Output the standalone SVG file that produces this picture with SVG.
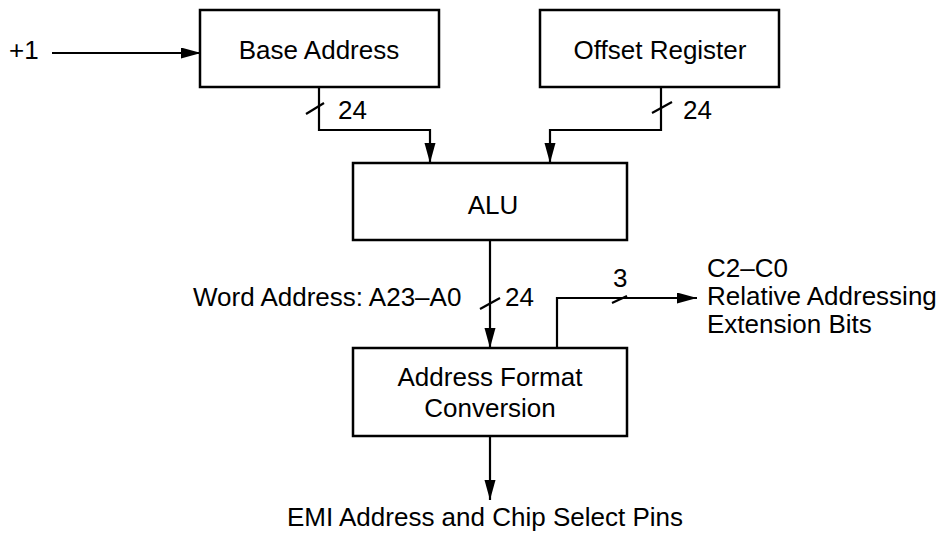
<svg xmlns="http://www.w3.org/2000/svg" width="945" height="533" viewBox="0 0 945 533">
<style>
.box{fill:#fff;stroke:#000;stroke-width:2.5}
.ln{fill:none;stroke:#000;stroke-width:2.2}
.t{font-family:"Liberation Sans",Arial,sans-serif;font-size:26px;fill:#000}
.c{text-anchor:middle}
</style>
<defs>
<marker id="ah" markerUnits="userSpaceOnUse" markerWidth="22" markerHeight="12" refX="20" refY="5.5" orient="auto">
<path d="M0,0 L20,5.5 L0,11 Z" fill="#000"/>
</marker>
</defs>
<rect width="945" height="533" fill="#fff"/>
<g id="connectors">
<path class="ln" d="M52,53 H201" marker-end="url(#ah)"/>
<path class="ln" d="M319,87 V130 H430 V163" marker-end="url(#ah)"/>
<path class="ln" d="M661,87 V130 H550 V163" marker-end="url(#ah)"/>
<path class="ln" d="M490,240 V348" marker-end="url(#ah)"/>
<path class="ln" d="M557,348 V298 H697" marker-end="url(#ah)"/>
<path class="ln" d="M490,436 V500" marker-end="url(#ah)"/>
<path class="ln" d="M306,114 L324,103"/>
<path class="ln" d="M652,113 L672,102"/>
<path class="ln" d="M480,309 L500,298"/>
<path class="ln" d="M612,303 L627,296"/>
<text class="t" x="9" y="59">+1</text>
<text class="t" x="338" y="119">24</text>
<text class="t" x="683" y="119">24</text>
<text class="t" x="193" y="306">Word Address: A23–A0</text>
<text class="t" x="505" y="306">24</text>
<text class="t" x="613" y="287">3</text>
<text class="t" x="707" y="277">C2–C0</text>
<text class="t" x="707" y="305">Relative Addressing</text>
<text class="t" x="707" y="333">Extension Bits</text>
<text class="t" x="287" y="526">EMI Address and Chip Select Pins</text>
</g>
<g id="base-address">
<rect class="box" x="200" y="10" width="239" height="77"/>
<text class="t c" x="319" y="59">Base Address</text>
</g>
<g id="offset-register">
<rect class="box" x="540" y="10" width="239" height="77"/>
<text class="t c" x="660" y="59">Offset Register</text>
</g>
<g id="alu">
<rect class="box" x="353" y="163" width="274" height="77"/>
<text class="t c" x="493" y="214">ALU</text>
</g>
<g id="address-format-conversion">
<rect class="box" x="353" y="348" width="274" height="88"/>
<text class="t c" x="490" y="386">Address Format</text>
<text class="t c" x="490" y="417">Conversion</text>
</g>
</svg>
